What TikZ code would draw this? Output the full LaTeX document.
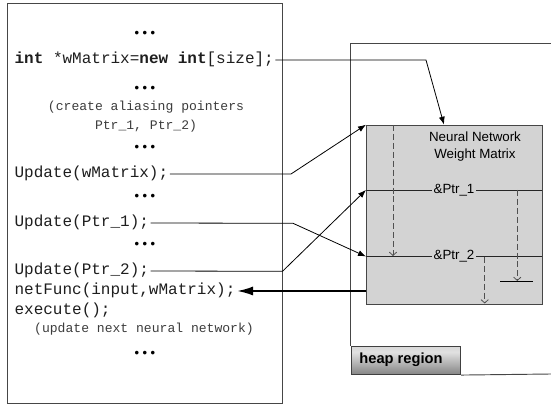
\documentclass[tikz,border=0pt]{standalone}
\usepackage{fontspec}
\setmainfont{Liberation Sans}
\setmonofont{Liberation Mono}
\usetikzlibrary{arrows.meta}
\definecolor{boxgray}{RGB}{211,211,211}
\definecolor{codecol}{RGB}{30,30,30}
\definecolor{cmtcol}{RGB}{60,60,60}
\definecolor{framecol}{RGB}{70,70,70}
\definecolor{dashcol}{RGB}{80,80,80}
\pgfdeclareverticalshading{heapsh}{100bp}{color(0bp)=(black!40); color(25bp)=(black!48); color(45bp)=(black!30); color(65bp)=(black!12); color(85bp)=(black!18); color(100bp)=(black!28)}
\begin{document}
\begin{tikzpicture}[x=0.75pt,y=-0.75pt,
  code/.style={anchor=west,inner sep=0pt,outer xsep=1.2pt,text height=8pt,text depth=3pt,
    font=\ttfamily\fontsize{12}{14}\selectfont,text=codecol},
  cmt/.style={inner sep=0pt,font=\ttfamily\fontsize{9.8}{12}\selectfont,text=cmtcol,
    text height=7pt,text depth=2.5pt},
  dotsn/.style={anchor=base,inner sep=0pt,font=\ttfamily\fontsize{10}{12}\selectfont},
  conn/.style={line width=0.6pt,-{Latex[length=6pt,width=4.5pt]}},
  dconn/.style={line width=0.6pt,dash pattern=on 4.5pt off 2.2pt,draw=dashcol,
    -{Straight Barb[length=2.5pt,width=5.5pt]}},
  matbox/.style={draw=framecol,line width=0.8pt,fill=boxgray,anchor=north west,
    minimum width=132.2pt,minimum height=134.7pt,inner sep=0pt},
  ptrlab/.style={fill=boxgray,inner sep=1pt,font=\fontsize{10}{12}\selectfont},
]
\useasboundingbox (0,0) rectangle (551,406);

% left code frame
\draw[framecol,line width=0.7pt] (7,3) rectangle (282.5,403.5);

\node[dotsn] (d1) at (145,38) {•••};
\node[code] (t1) at (13,60) {\textbf{int} *wMatrix=\textbf{new} \textbf{int}[size];};
\node[dotsn] (d2) at (145,92.3) {•••};
\node[cmt] (c1) at (146,108) {(create aliasing pointers};
\node[cmt] (c2) at (146,127) {Ptr\_1, Ptr\_2)};
\node[dotsn] (d3) at (145,151.3) {•••};
\node[code] (t2) at (13,174) {Update(wMatrix);};
\node[dotsn] (d4) at (145,200.7) {•••};
\node[code] (t3) at (13,223) {Update(Ptr\_1);};
\node[dotsn] (d5) at (145,249) {•••};
\node[code] (t4) at (13,271) {Update(Ptr\_2);};
\node[code] (t5) at (13,291) {netFunc(input,wMatrix);};
\node[code] (t6) at (13,311) {execute();};
\node[cmt] (c3) at (144,330) {(update next neural network)};
\node[dotsn] (d6) at (145,357.3) {•••};

% heap region
\draw[framecol,line width=0.7pt] (551,43.3) -- (350.7,43.3) -- (350.7,346);
\node[draw=black!75,line width=0.8pt,shading=heapsh,anchor=north west,
  minimum width=82pt,minimum height=21pt,inner sep=0pt] (heap) at (350.7,346) {};
\node[font=\bfseries\fontsize{11}{13}\selectfont,inner sep=0pt] (heaplab) at (401,360) {heap region};
\draw[framecol,line width=0.7pt] (heap.south east) -- (551,374);

% weight matrix
\node[matbox] (box) at (366,124.7) {};
\node[align=center,font=\fontsize{10}{13.3}\selectfont,inner sep=0pt] (title) at (475,146.5)
  {Neural Network\\Weight Matrix};

\coordinate (p1L) at (366,190);
\coordinate (p1R) at (542.3,190);
\coordinate (p2L) at (366,256.5);
\coordinate (p2R) at (542.3,256.5);
\draw[line width=0.6pt,black!85] (p1L) -- (p1R);
\draw[line width=0.6pt,black!85] (p2L) -- (p2R);
\node[ptrlab] (l1) at (454,190) {\&Ptr\_1};
\node[ptrlab] (l2) at (454,256.5) {\&Ptr\_2};

% dashed arrows
\coordinate (dAs) at (393,125);
\coordinate (dAe) at (393,256);
\coordinate (dBs) at (517.3,190);
\coordinate (dBe) at (517.3,281);
\coordinate (dCs) at (484.7,257);
\coordinate (dCe) at (484.7,303.5);
\draw[dconn] (dAs) -- (dAe);
\draw[dconn] (dBs) -- (dBe);
\draw[dconn] (dCs) -- (dCe);
\coordinate (hL) at (500,281);
\coordinate (hR) at (533,281);
\draw[line width=0.6pt] (hL) -- (hR);

% connectors
\coordinate (b1) at (426,60);
\coordinate (e1) at (444,124.7);
\draw[conn] (t1.east) -- (b1) -- (e1);

\coordinate (b2) at (291,174);
\draw[conn] (t2.east) -- (b2) -- (box.north west);

\coordinate (b3) at (293,223.3);
\draw[conn] (t3.east) -- (b3) -- (p2L);

\coordinate (b4) at (282.5,271.3);
\draw[conn] (t4.east) -- (b4) -- (p1L);

\draw[line width=1.5pt,-{Latex[length=12pt,width=6.8pt]}] (box.west |- t5.east) -- (t5.east);
\end{tikzpicture}
\end{document}
